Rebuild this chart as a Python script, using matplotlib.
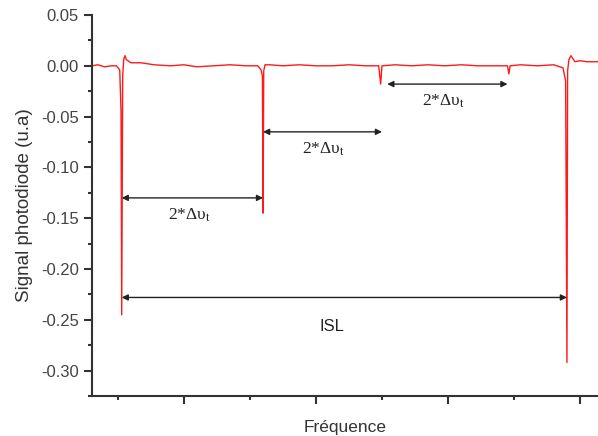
import matplotlib.pyplot as plt
from matplotlib.ticker import MultipleLocator

plt.rcParams['mathtext.fontset'] = 'stix'

# Photodiode trace (x in arbitrary frequency units)
freq = [-0.39, -0.30, -0.20, -0.10, -0.02, 0.03, 0.05, 0.06, 0.075, 0.09, 0.11,
        0.13, 0.20, 0.35, 0.55, 0.80, 1.00, 1.20, 1.45, 1.70, 1.95, 2.12, 2.17,
        2.19, 2.20, 2.21, 2.23, 2.30, 2.50, 2.75, 3.00, 3.25, 3.50, 3.75, 3.95,
        3.98, 4.00, 4.20, 4.45, 4.70, 4.95, 5.20, 5.45, 5.70, 5.90, 5.92, 5.94,
        6.10, 6.35, 6.60, 6.74, 6.78, 6.80, 6.81, 6.83, 6.86, 6.92, 7.00, 7.10,
        7.27]
signal = [0.000, 0.001, -0.001, 0.000, 0.000, -0.004, -0.045, -0.245, -0.010, 0.006, 0.010,
          0.006, 0.003, 0.003, 0.001, 0.000, 0.001, -0.001, 0.000, 0.001, 0.000, 0.000, -0.004,
          -0.010, -0.145, -0.005, 0.001, 0.001, 0.000, 0.001, 0.000, 0.000, 0.001, 0.000, 0.000,
          -0.018, 0.000, 0.001, 0.000, 0.001, 0.000, 0.001, 0.000, 0.000, 0.000, -0.008, 0.000,
          0.001, 0.000, 0.001, -0.002, -0.015, -0.292, -0.005, 0.006, 0.010, 0.004, 0.005, 0.004,
          0.004]

# Double-headed arrows: (x start, x end, y) and their labels
arrows = [(0.06, 2.20, -0.130), (2.20, 4.00, -0.065), (4.08, 5.90, -0.018), (0.06, 6.80, -0.228)]
labels = [(1.08, -0.147, '2*Δυ$_{\\mathrm{t}}$'), (3.12, -0.082, '2*Δυ$_{\\mathrm{t}}$'),
          (4.93, -0.035, '2*Δυ$_{\\mathrm{t}}$'), (3.24, -0.257, 'ISL')]


def main():
    fig = plt.figure(figsize=(5.98, 4.36), dpi=100)
    ax = fig.add_axes([0.1538, 0.0917, 0.8462, 0.8739])

    ax.plot(freq, signal, color='#ff1a1a', lw=1.0)

    for x0, x1, y in arrows:
        ax.annotate('', xy=(x0, y), xytext=(x1, y),
                    arrowprops=dict(arrowstyle='<|-|>', color='#222222', lw=1.0,
                                    mutation_scale=9, shrinkA=0, shrinkB=0))
    for x, y, txt in labels:
        if txt == 'ISL':
            ax.text(x, y, txt, ha='center', va='center', fontsize=12,
                    family='Liberation Sans', color='#222222')
        else:
            ax.text(x, y, txt, ha='center', va='center', fontsize=12.5,
                    family='Liberation Serif', color='#222222')

    ax.set_xlim(-0.39, 7.27)
    ax.set_ylim(-0.325, 0.05)

    ax.set_xticks([1, 3, 5, 7])
    ax.set_xticks([0, 2, 4, 6], minor=True)
    ax.set_xticklabels([])
    ax.yaxis.set_major_locator(MultipleLocator(0.05))
    ax.yaxis.set_minor_locator(MultipleLocator(0.025))
    ax.yaxis.set_major_formatter(lambda v, p: f'{v:.2f}')

    for side in ('top', 'right'):
        ax.spines[side].set_visible(False)
    for side in ('left', 'bottom'):
        ax.spines[side].set_linewidth(1.5)
        ax.spines[side].set_color('#333333')
    ax.tick_params(which='major', direction='out', length=6, width=1.5,
                   color='#333333', labelsize=12, labelcolor='#444444')
    ax.tick_params(which='minor', direction='out', length=3, width=1.5, color='#333333')
    for lab in ax.get_yticklabels():
        lab.set_family('Liberation Sans')

    ax.set_ylabel('Signal photodiode (u.a)', fontsize=13.5, family='Liberation Sans',
                  color='#333333', labelpad=6)
    ax.set_xlabel('Fréquence', fontsize=12.5, family='Liberation Sans',
                  color='#333333', labelpad=8)

    fig.savefig('out.png', dpi=100)


if __name__ == '__main__':
    main()
